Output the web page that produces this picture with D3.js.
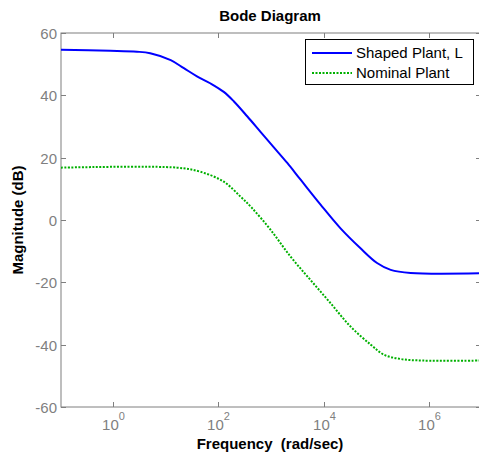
<!DOCTYPE html>
<html>
<head>
<meta charset="utf-8">
<script src="https://cdn.jsdelivr.net/npm/d3@7"></script>
<style>
  body { margin: 0; background: #fff; }
  text { font-family: Arial, "Liberation Sans", sans-serif; }
</style>
</head>
<body>
<div id="chart"></div>
<script>
// frequencies in rad/sec, magnitudes in dB
const shapedFreq = [0.1, 0.87, 2.8, 5, 12.3, 21.9, 38.9, 70.8, 126, 195, 355, 631, 1122, 2042, 3631, 8710, 20893, 50119, 104713, 190546, 457088, 1e7];
const shapedMag  = [54.6, 54.3, 54.0, 53.5, 51.3, 48.7, 46.1, 43.8, 41.1, 38.1, 33.2, 28.3, 23.4, 18.3, 13.0, 5.0, -2.6, -9.0, -13.8, -16.0, -17.0, -17.1];
const nominalFreq = [0.1, 16.2, 44.7, 126, 263, 437, 977, 2344, 5623, 13490, 32359, 79433, 141254, 295121, 794328, 1e7];
const nominalMag  = [16.8, 16.8, 15.5, 12.3, 7.5, 3.8, -3.1, -11.7, -19.2, -26.6, -34.1, -40.0, -43.2, -44.6, -45.1, -45.1];
const xTicks = [0, 2, 4, 6];           // decades
const yTicks = [-60, -40, -20, 0, 20, 40, 60];
const legendNames = ["Shaped Plant, L", "Nominal Plant"];

let width = 479, height = 462, margin = { top: 33, right: -2, bottom: 55, left: 61 };
let iw = width - margin.left - margin.right, ih = height - margin.top - margin.bottom;

let svg = d3.select("#chart").append("svg")
    .attr("width", width)
    .attr("height", height);

let g = svg.append("g").attr("transform", `translate(${margin.left},${margin.top})`);

let x = d3.scaleLog().domain([0.1, 1e7]).range([0, iw]);
let y = d3.scaleLinear().domain([-60, 60]).range([ih, 0]);

const axisColor = "#7f7f7f";

// box
g.append("rect")
    .attr("width", iw).attr("height", ih)
    .attr("fill", "none").attr("stroke", axisColor).attr("stroke-width", 1);

// ticks (inside, on all four sides)
xTicks.forEach(t => {
    let px = Math.round(x(Math.pow(10, t))) + 0.5;
    g.append("line").attr("x1", px).attr("x2", px).attr("y1", ih).attr("y2", ih - 5).attr("stroke", axisColor);
    g.append("line").attr("x1", px).attr("x2", px).attr("y1", 0).attr("y2", 5).attr("stroke", axisColor);
    let lab = g.append("text")
        .attr("x", px).attr("y", ih + 23)
        .attr("text-anchor", "middle")
        .attr("fill", axisColor)
        .attr("font-size", "15px");
    lab.append("tspan").text("10");
    lab.append("tspan").attr("dy", -10).attr("font-size", "11px").text(t);
});

yTicks.forEach(t => {
    let py = Math.round(y(t)) + 0.5;
    g.append("line").attr("x1", 0).attr("x2", 5).attr("y1", py).attr("y2", py).attr("stroke", axisColor);
    g.append("line").attr("x1", iw).attr("x2", iw - 5).attr("y1", py).attr("y2", py).attr("stroke", axisColor);
    g.append("text")
        .attr("x", -4).attr("y", py)
        .attr("dy", "0.35em")
        .attr("text-anchor", "end")
        .attr("fill", axisColor)
        .attr("font-size", "15px")
        .text(t);
});

// curves
let line = d3.line()
    .x(d => x(d[0]))
    .y(d => y(d[1]))
    .curve(d3.curveCatmullRom.alpha(0.5));

let shaped = shapedFreq.map((f, i) => [f, shapedMag[i]]);
let nominal = nominalFreq.map((f, i) => [f, nominalMag[i]]);

g.append("path").datum(nominal)
    .attr("d", line)
    .attr("fill", "none")
    .attr("stroke", "#00b000")
    .attr("stroke-width", 2)
    .attr("stroke-dasharray", "2,1.5");

g.append("path").datum(shaped)
    .attr("d", line)
    .attr("fill", "none")
    .attr("stroke", "#0000ff")
    .attr("stroke-width", 2);

// titles
svg.append("text")
    .attr("x", 270).attr("y", 21)
    .attr("text-anchor", "middle")
    .attr("font-size", "15px").attr("font-weight", "bold")
    .text("Bode Diagram");

svg.append("text")
    .attr("x", 270).attr("y", 449)
    .attr("text-anchor", "middle")
    .attr("font-size", "15px").attr("font-weight", "bold")
    .style("white-space", "pre")
    .text("Frequency  (rad/sec)");

svg.append("text")
    .attr("transform", `translate(23,220) rotate(-90)`)
    .attr("text-anchor", "middle")
    .attr("font-size", "15px").attr("font-weight", "bold")
    .text("Magnitude (dB)");

// legend
let lg = svg.append("g").attr("transform", "translate(305,39)");
lg.append("rect")
    .attr("x", 0.5).attr("y", 0.5)
    .attr("width", 168).attr("height", 45)
    .attr("fill", "#fff").attr("stroke", "#000");
const legendStyles = [
    { color: "#0000ff", dash: null },
    { color: "#00b000", dash: "2,1.5" }
];
legendNames.forEach((name, i) => {
    let ly = 14 + i * 20;
    lg.append("line")
        .attr("x1", 7).attr("x2", 47)
        .attr("y1", ly).attr("y2", ly)
        .attr("stroke", legendStyles[i].color)
        .attr("stroke-width", 2)
        .attr("stroke-dasharray", legendStyles[i].dash);
    lg.append("text")
        .attr("x", 51).attr("y", ly)
        .attr("dy", "0.35em")
        .attr("font-size", "15px")
        .text(name);
});
</script>
</body>
</html>
